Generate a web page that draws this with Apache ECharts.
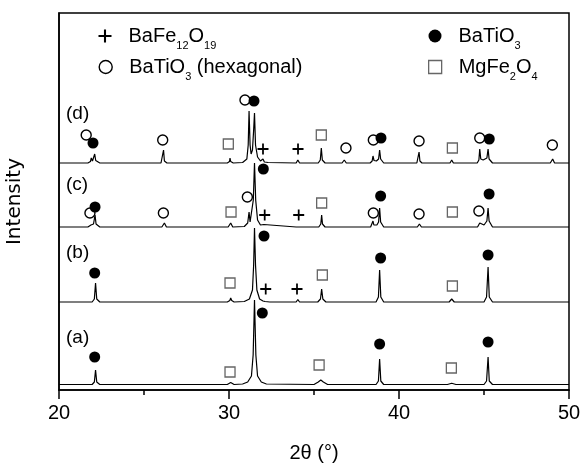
<!DOCTYPE html>
<html>
<head>
<meta charset="utf-8">
<script src="https://cdn.jsdelivr.net/npm/echarts@6/dist/echarts.min.js"></script>
<style>
  html, body { margin: 0; padding: 0; background: #fff; }
  #chart { width: 584px; height: 467px; }
</style>
</head>
<body>
<div id="chart"></div>
<script>
// offset XRD traces, values are stacked intensity (arb. units)
const traceA = [
  [20, 5.5], [21.95, 5.5], [22.08, 8], [22.15, 20], [22.22, 8], [22.4, 5.5],
  [29.9, 5.5], [30.1, 7.5], [30.3, 5.5],
  [30.8, 6], [31.1, 8], [31.32, 14], [31.42, 35], [31.5, 90], [31.58, 35], [31.68, 14], [31.9, 8], [32.2, 6],
  [35.0, 5.5], [35.25, 8], [35.4, 10], [35.55, 8], [35.8, 5.5],
  [38.65, 5.5], [38.79, 9], [38.86, 31], [38.93, 9], [39.1, 5.5],
  [42.85, 5.5], [43.1, 6.8], [43.35, 5.5],
  [45.0, 5.5], [45.15, 9], [45.24, 33], [45.31, 9], [45.5, 5.5],
  [50, 5.5]
]
const traceB = [
  [20, 88], [21.95, 88], [22.08, 91], [22.15, 107], [22.22, 91], [22.4, 88],
  [29.9, 88], [30.05, 89.5], [30.1, 92], [30.16, 89.5], [30.3, 88],
  [30.9, 88.5], [31.2, 91], [31.38, 100], [31.45, 125], [31.5, 162], [31.56, 125], [31.64, 100], [31.8, 91],
  [32.0, 89], [32.05, 90.5], [32.12, 88.5], [32.4, 88],
  [33.95, 88], [34.05, 90.5], [34.15, 88],
  [35.22, 88], [35.38, 91], [35.45, 101], [35.52, 91], [35.7, 88],
  [38.65, 88], [38.79, 93], [38.86, 120], [38.93, 93], [39.1, 88],
  [42.95, 88], [43.1, 91], [43.25, 88],
  [45.0, 88], [45.15, 93], [45.24, 123], [45.31, 93], [45.5, 88],
  [50, 88]
]
const traceC = [
  [20, 163], [21.7, 163], [21.88, 165], [21.95, 167], [22.03, 166], [22.12, 175], [22.18, 166], [22.4, 163],
  [26.05, 163], [26.2, 167], [26.32, 163],
  [29.95, 163], [30.1, 167], [30.22, 163],
  [30.9, 163.5], [31.1, 167], [31.18, 178], [31.24, 168], [31.32, 170], [31.43, 190], [31.5, 227], [31.57, 190], [31.68, 170], [31.85, 165],
  [31.95, 164], [32.05, 165.5], [32.15, 163.5],
  [33.95, 163], [34.05, 165], [34.15, 163],
  [35.28, 163], [35.4, 166], [35.45, 175], [35.5, 166], [35.65, 163],
  [36.7, 163], [36.8, 164.5], [36.9, 163],
  [38.33, 163], [38.44, 165], [38.47, 169], [38.52, 165], [38.7, 165], [38.8, 168], [38.86, 182], [38.92, 168], [39.1, 163],
  [41.08, 163], [41.2, 166], [41.32, 163],
  [43.0, 163], [43.1, 165], [43.2, 163],
  [44.62, 163], [44.72, 165], [44.75, 167], [44.8, 165], [45.0, 165], [45.17, 169], [45.24, 182], [45.3, 169], [45.5, 163],
  [48.9, 163], [49.0, 164.5], [49.1, 163],
  [50, 163]
]
const traceD = [
  [20, 227], [21.7, 227], [21.85, 228.5], [21.9, 232], [21.97, 229], [22.04, 229.5], [22.1, 236], [22.16, 229.5], [22.4, 227],
  [26.0, 227], [26.1, 229], [26.15, 240], [26.2, 229], [26.35, 227],
  [29.9, 227], [30.03, 228.5], [30.06, 232], [30.1, 228.5], [30.25, 227],
  [30.8, 227.5], [31.05, 231], [31.13, 245], [31.18, 279], [31.24, 245], [31.3, 236], [31.38, 240], [31.45, 260], [31.5, 277], [31.56, 245], [31.68, 233], [31.85, 229],
  [31.95, 229], [32.0, 231], [32.08, 228], [32.3, 227.5],
  [33.95, 227], [34.05, 230], [34.15, 227],
  [35.25, 227], [35.37, 230], [35.43, 242], [35.49, 230], [35.65, 227],
  [36.65, 227], [36.78, 230], [36.9, 227],
  [38.3, 227], [38.42, 229], [38.47, 234], [38.53, 229.5], [38.67, 229], [38.8, 231], [38.86, 240], [38.92, 231], [39.1, 227],
  [41.05, 227], [41.13, 229], [41.18, 238], [41.23, 229], [41.35, 227],
  [43.0, 227], [43.1, 230], [43.2, 227],
  [44.6, 227], [44.7, 230], [44.75, 241], [44.81, 231], [44.95, 230], [45.17, 232], [45.24, 241], [45.3, 231], [45.5, 227],
  [48.9, 227], [49.04, 231], [49.15, 227],
  [50, 227]
]

// phase markers
const phases = ['BaFe12O19', 'BaTiO3 (hexagonal)', 'BaTiO3', 'MgFe2O4']
const plusMarks = [[32.0, 241], [34.06, 241], [32.1, 175], [34.1, 175], [32.16, 101], [34.0, 101]]
const hexMarks = [
  [21.6, 255], [26.1, 250], [30.94, 290], [36.88, 242], [38.49, 250], [41.18, 249], [44.75, 252], [49.02, 245],
  [21.82, 177], [26.14, 177], [31.08, 193], [38.49, 177], [41.18, 176], [44.7, 179]
]
const btoMarks = [
  [22.0, 247], [31.47, 289], [38.94, 252], [45.31, 251],
  [22.12, 183], [32.02, 221], [38.92, 194], [45.3, 196],
  [22.1, 117], [32.06, 154], [38.92, 132], [45.24, 135],
  [22.1, 33], [31.96, 77], [38.86, 46], [45.24, 48]
]
const mfoMarks = [
  [29.96, 246], [35.43, 255], [43.14, 242],
  [30.12, 178], [35.45, 187], [43.14, 178],
  [30.06, 107], [35.49, 115], [43.14, 104],
  [30.06, 18], [35.3, 25], [43.08, 22]
]
const traceNames = ['(a)', '(b)', '(c)', '(d)']

const FONT = 'Liberation Sans, Arial, sans-serif'
const PLUS = 'path://M4.2,0H5.8V4.2H10V5.8H5.8V10H4.2V5.8H0V4.2H4.2Z'

const markStyle = [
  { symbol: PLUS, symbolSize: 11, itemStyle: { color: '#000', opacity: 1 } },
  { symbol: 'circle', symbolSize: 10, itemStyle: { color: '#fff', borderColor: '#000', borderWidth: 1.4, opacity: 1 } },
  { symbol: 'circle', symbolSize: 11, itemStyle: { color: '#000', opacity: 1 } },
  { symbol: 'rect', symbolSize: 10, itemStyle: { color: '#fff', borderColor: '#666', borderWidth: 1.3, opacity: 1 } }
]
const markData = [plusMarks, hexMarks, btoMarks, mfoMarks]

const richLabel = {
  'BaFe12O19': '{sp|}{n|BaFe}{s|12}{n|O}{s|19}',
  'BaTiO3 (hexagonal)': '{sp|}{n|BaTiO}{s|3}{n| (hexagonal)}',
  'BaTiO3': '{sp|}{n|BaTiO}{s|3}',
  'MgFe2O4': '{sp|}{n|MgFe}{s|2}{n|O}{s|4}'
}
const rich = {
  sp: { width: 12 },
  n: { fontSize: 20, lineHeight: 22, fontFamily: FONT, color: '#000' },
  s: { fontSize: 11, lineHeight: 11, padding: [19, 0, 0, 0], fontFamily: FONT, color: '#000' }
}
const legendSpots = [
  { left: 98.5, top: 21 },
  { left: 98.5, top: 52 },
  { left: 428.5, top: 21 },
  { left: 428, top: 52 }
]

const chart = echarts.init(document.getElementById('chart'))

const series = [traceA, traceB, traceC, traceD].map((d) => ({
  type: 'line',
  data: d,
  showSymbol: false,
  silent: true,
  animation: false,
  lineStyle: { color: '#000', width: 1.2 },
  z: 2
}))

phases.forEach((name, i) => {
  series.push({
    name,
    type: 'scatter',
    data: markData[i],
    symbol: markStyle[i].symbol,
    symbolSize: markStyle[i].symbolSize,
    itemStyle: markStyle[i].itemStyle,
    animation: false,
    z: 3
  })
})

chart.setOption({
  backgroundColor: '#fff',
  textStyle: { fontFamily: FONT },
  grid: {
    left: 59, right: 15, top: 13, bottom: 77,
    outerBoundsMode: 'none',
    show: true, borderColor: '#000', borderWidth: 1.5
  },
  legend: phases.map((name, i) => ({
    data: [{ name, icon: markStyle[i].symbol, itemStyle: markStyle[i].itemStyle }],
    left: legendSpots[i].left,
    top: legendSpots[i].top,
    padding: 0,
    itemWidth: 13,
    itemHeight: 13,
    selectedMode: false,
    formatter: (n) => richLabel[n],
    textStyle: { rich }
  })),
  xAxis: {
    type: 'value',
    min: 20,
    max: 50,
    interval: 10,
    axisLine: { lineStyle: { color: '#000', width: 1.5 } },
    axisTick: { length: 9, lineStyle: { color: '#000', width: 1.5 } },
    minorTick: { show: true, splitNumber: 2, length: 5, lineStyle: { color: '#000', width: 1.5 } },
    splitLine: { show: false },
    axisLabel: { fontSize: 20, color: '#000', margin: 13, fontFamily: FONT },
    name: '2θ (°)',
    nameLocation: 'middle',
    nameGap: 53,
    nameTextStyle: { fontSize: 20, color: '#000', fontFamily: FONT }
  },
  yAxis: {
    type: 'value',
    min: 0,
    max: 377,
    axisLine: { show: true, lineStyle: { color: '#000', width: 1.5 } },
    axisTick: { show: false },
    axisLabel: { show: false },
    splitLine: { show: false },
    name: 'Intensity',
    nameLocation: 'middle',
    nameGap: 34,
    nameTextStyle: { fontSize: 20, color: '#000', fontFamily: 'DejaVu Sans, sans-serif' }
  },
  graphic: traceNames.map((t, i) => ({
    type: 'text',
    left: 66,
    top: [338, 253, 185, 114][i] - 10,
    style: { text: t, fontSize: 19, fontFamily: FONT, fill: '#000' },
    silent: true
  })),
  series
})
</script>
</body>
</html>
